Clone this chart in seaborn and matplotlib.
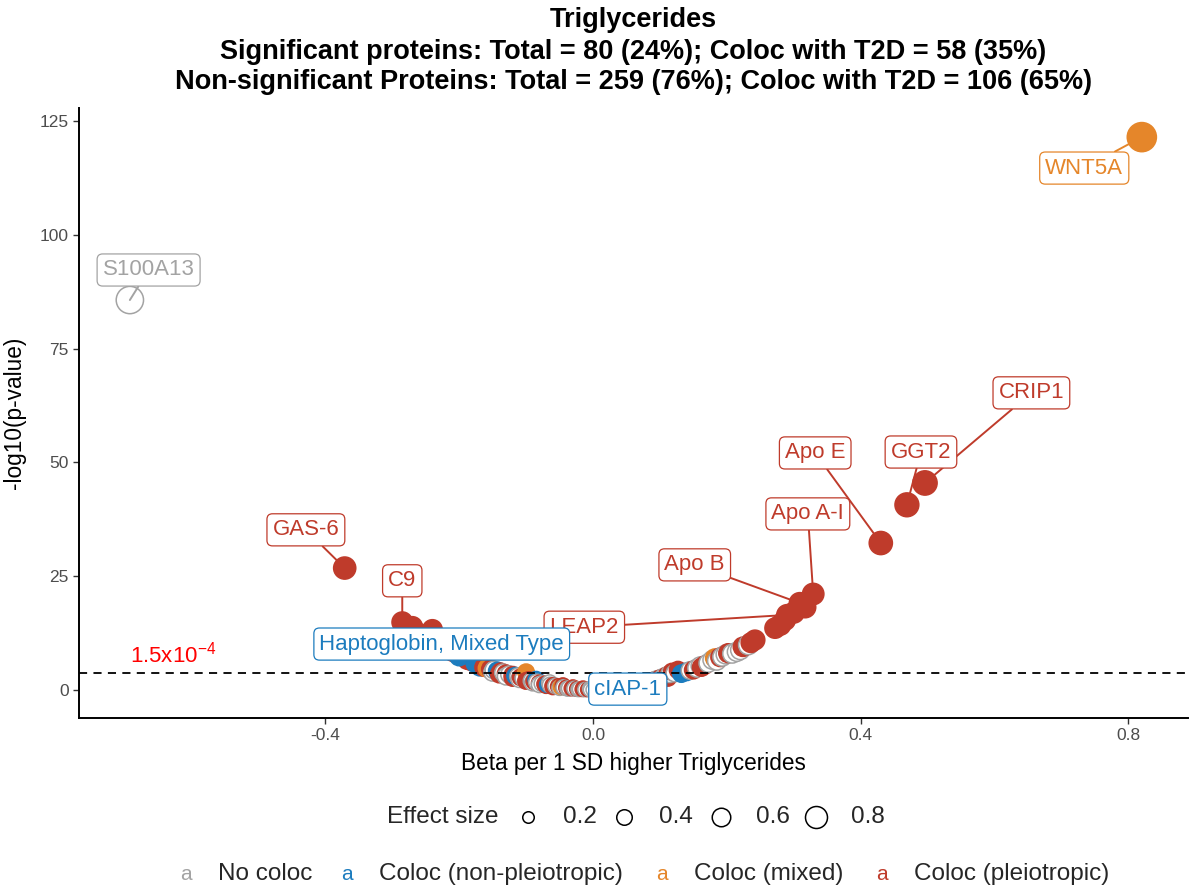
import matplotlib
matplotlib.use("Agg")
import matplotlib.pyplot as plt
import seaborn as sns
import pandas as pd
import numpy as np
from matplotlib.lines import Line2D

# ---------------- data ----------------
# codes: N = No coloc, B = Coloc (non-pleiotropic), M = Coloc (mixed), P = Coloc (pleiotropic)
beta_left = [-0.270, -0.262, -0.250, -0.240, -0.230, -0.222, -0.215, -0.208, -0.200, -0.195,
             -0.188, -0.182, -0.176, -0.169, -0.163, -0.158, -0.153, -0.148, -0.143, -0.138,
             -0.134, -0.130, -0.125, -0.120, -0.116, -0.112, -0.108, -0.104, -0.100, -0.096,
             -0.092, -0.088, -0.084, -0.080, -0.076, -0.072, -0.068, -0.064, -0.060, -0.056,
             -0.052, -0.048, -0.044, -0.040, -0.036, -0.032, -0.028, -0.024, -0.020, -0.016,
             -0.012, -0.008, -0.004]
logp_left = [13.9, 12.5, 11.5, 13.3, 10.2, 9.6, 8.8, 8.3, 7.9, 7.4,
             6.6, 6.3, 5.9, 5.1, 5.0, 4.8, 4.6, 4.4, 4.2, 4.0,
             3.8, 3.6, 3.4, 3.3, 3.1, 3.0, 2.8, 2.6, 3.9, 2.2,
             2.0, 1.9, 1.7, 1.5, 1.4, 1.3, 1.2, 1.1, 1.0, 0.9,
             0.8, 0.7, 0.6, 0.5, 0.4, 0.35, 0.3, 0.25, 0.2, 0.15,
             0.1, 0.1, 0.05]
coloc_left = "PPPPPPPPPN" "PPBBPMPNBP" "NPNPBNPNMP" "NPNPNPBNPN" "PMNPNPNPNP" "NPN"

beta_right = [0.000, 0.005, 0.010, 0.015, 0.020, 0.025, 0.030, 0.035, 0.040, 0.045,
              0.055, 0.060, 0.065, 0.070, 0.075, 0.080, 0.085, 0.090, 0.095, 0.100,
              0.105, 0.110, 0.114, 0.118, 0.127, 0.140, 0.145, 0.155, 0.162, 0.167,
              0.172, 0.178, 0.182, 0.190, 0.193, 0.202, 0.208, 0.215, 0.224, 0.232,
              0.242, 0.272, 0.280, 0.287, 0.300, 0.317]
logp_right = [0.05, 0.08, 0.1, 0.15, 0.2, 0.25, 0.3, 0.4, 0.5, 0.6,
              0.8, 1.0, 1.1, 1.3, 1.5, 1.7, 1.9, 2.1, 2.4, 2.6,
              2.9, 3.2, 3.5, 4.0, 4.4, 4.0, 4.3, 4.8, 5.0, 5.5,
              5.9, 6.6, 7.0, 7.2, 7.3, 8.1, 8.0, 8.4, 9.5, 9.9,
              11.0, 13.6, 14.3, 15.4, 17.0, 18.2]
coloc_right = "NPNPNPNPNP" "NPNPNBNPNP" "NPNPPBNNPP" "NNMPNPNNPN" "PPPPPP"

beta_band = [-0.150, -0.140, -0.130, -0.120, -0.110, -0.100, -0.090, -0.085, -0.080, -0.070,
             -0.065, -0.060, -0.050, -0.045, -0.038, -0.030, -0.022, -0.015, -0.005,
             0.005, 0.012, 0.022, 0.032, 0.042, 0.050, 0.062, 0.072, 0.082, 0.092,
             0.102, 0.112, 0.122, 0.132, 0.150, 0.160, 0.185, 0.198, 0.220, 0.236]
logp_band = [3.9, 3.5, 3.0, 2.7, 2.4, 2.0, 1.6, 2.3, 1.2, 1.0,
             1.6, 0.7, 0.5, 1.0, 0.3, 0.6, 0.15, 0.4, 0.3,
             0.3, 0.45, 0.5, 0.7, 0.9, 0.4, 1.4, 1.0, 2.0, 1.7,
             2.2, 2.7, 3.7, 3.6, 4.4, 5.3, 6.4, 7.8, 8.8, 10.4]
coloc_band = "NPNPNPNBNP" "NPNPNPNPN" "NPNPNPNPNP" "NPNBPNNNNP"

label_protein = ["WNT5A", "S100A13", "CRIP1", "GGT2", "Apo E", "Apo A-I", "Apo B",
                 "LEAP2", "GAS-6", "C9", "Haptoglobin, Mixed Type", "cIAP-1"]
label_beta = [0.820, -0.692, 0.496, 0.469, 0.430, 0.329, 0.309, 0.290, -0.371, -0.285, -0.200, 0.050]
label_logp = [121.5, 85.7, 45.5, 40.7, 32.3, 21.1, 19.1, 16.5, 26.8, 14.9, 7.4, 0.9]
label_coloc = "MNPPPPPPPPBB"

coloc_names = {"N": "No coloc", "B": "Coloc (non-pleiotropic)",
               "M": "Coloc (mixed)", "P": "Coloc (pleiotropic)"}
coloc_order = ["No coloc", "Coloc (non-pleiotropic)", "Coloc (mixed)", "Coloc (pleiotropic)"]
palette = {"No coloc": "#A3A3A3", "Coloc (non-pleiotropic)": "#1C7CBE",
           "Coloc (mixed)": "#E5862A", "Coloc (pleiotropic)": "#BF3B2B"}

threshold_p = 1.5e-4
title_lines = ["Triglycerides",
               "Significant proteins: Total = 80 (24%); Coloc with T2D = 58 (35%)",
               "Non-significant Proteins: Total = 259 (76%); Coloc with T2D = 106 (65%)"]
size_breaks = [0.2, 0.4, 0.6, 0.8]

# label box centres (layout, data coords)
label_pos = {"WNT5A": (0.734, 114.7), "S100A13": (-0.664, 92.3), "CRIP1": (0.655, 65.3),
             "GGT2": (0.490, 52.3), "Apo E": (0.332, 52.1), "Apo A-I": (0.321, 38.7),
             "Apo B": (0.152, 27.5), "LEAP2": (-0.013, 13.8), "GAS-6": (-0.429, 35.2),
             "C9": (-0.285, 24.0), "Haptoglobin, Mixed Type": (-0.226, 10.1),
             "cIAP-1": (0.052, 0.2)}

# ---------------- frame ----------------
pts = pd.DataFrame({
    "beta": beta_left + beta_right + beta_band,
    "neglogp": logp_left + logp_right + logp_band,
    "coloc": [coloc_names[c] for c in coloc_left + coloc_right + coloc_band],
    "protein": "",
}).sort_values("beta", kind="stable")
labs = pd.DataFrame({
    "beta": label_beta, "neglogp": label_logp,
    "coloc": [coloc_names[c] for c in label_coloc], "protein": label_protein,
})
df = pd.concat([pts, labs], ignore_index=True)
df["effect"] = df["beta"].abs()

sns.set_theme(style="ticks")
plt.rcParams["font.family"] = ["Liberation Sans", "DejaVu Sans"]
plt.rcParams["mathtext.fontset"] = "custom"
plt.rcParams["mathtext.rm"] = "Liberation Sans"
plt.rcParams["mathtext.it"] = "Liberation Sans:italic"
plt.rcParams["mathtext.bf"] = "Liberation Sans:bold"

W, H = 1190, 888
fig = plt.figure(figsize=(W / 100, H / 100), dpi=100)
L, R, T, B = 79, 1188, 108, 718
ax = fig.add_axes([L / W, 1 - B / H, (R - L) / W, (B - T) / H])

sns.scatterplot(data=df, x="beta", y="neglogp", hue="coloc", hue_order=coloc_order,
                palette=palette, size="effect", sizes=(100, 440), size_norm=(0, 0.82),
                legend=False, ax=ax, linewidth=1.1, zorder=3)
pc = ax.collections[0]
pc.set_facecolors(["white" if c == "No coloc" else palette[c] for c in df["coloc"]])
pc.set_edgecolors([palette[c] for c in df["coloc"]])

thr = -np.log10(threshold_p)
ax.axhline(thr, color="black", lw=1.3, ls=(0, (4.5, 3.5)), zorder=4)
ax.text(-0.692, thr + 1.2, r"1.5x10$^{\mathregular{-4}}$", color="#FF0000", fontsize=16,
        ha="left", va="bottom", zorder=4)

for _, row in df[df["protein"] != ""].iterrows():
    col = palette[row["coloc"]]
    ax.annotate(row["protein"], xy=(row["beta"], row["neglogp"]),
                xytext=label_pos[row["protein"]], textcoords="data",
                ha="center", va="center", fontsize=16, color=col, zorder=6,
                bbox=dict(boxstyle="round,pad=0.25,rounding_size=0.25", fc="white",
                          ec=col, lw=0.9),
                arrowprops=dict(arrowstyle="-", color=col, lw=1.4,
                                shrinkA=0, shrinkB=0))

ax.set_xlim(-0.768, 0.889)
ax.set_ylim(-6.15, 127.9)
ax.set_xticks([-0.4, 0.0, 0.4, 0.8])
ax.set_xticklabels(["-0.4", "0.0", "0.4", "0.8"])
ax.set_yticks([0, 25, 50, 75, 100, 125])
ax.tick_params(axis="both", labelsize=12.5, labelcolor="#4D4D4D", color="#333333",
               length=4, width=1.0)
for s in ["top", "right"]:
    ax.spines[s].set_visible(False)
for s in ["left", "bottom"]:
    ax.spines[s].set_color("black")
    ax.spines[s].set_linewidth(1.4)
ax.set_xlabel("Beta per 1 SD higher Triglycerides", fontsize=16.3, color="black", labelpad=6)
ax.set_ylabel("-log10(p-value)", fontsize=16.3, color="black", labelpad=10)

# title
for line, yy in zip(title_lines, [20, 52, 82]):
    fig.text((L + R) / 2 / W, 1 - yy / H, line, ha="center", va="center",
             fontsize=19.5, fontweight="bold", color="black")

# size legend
ly1 = 1 - 817 / H
fig.text(387 / W, ly1, "Effect size", fontsize=17.5, ha="left", va="center")
circ_x = [528, 624, 721, 816]
circ_d = [11.5, 15.5, 18.5, 22.0]
for b, cx, d in zip(size_breaks, circ_x, circ_d):
    fig.add_artist(Line2D([cx / W], [ly1], transform=fig.transFigure, marker="o",
                          markersize=d * 0.72, mfc="white", mec="black", mew=1.1, ls=""))
    fig.text((cx + 35) / W, ly1, f"{b:.1f}", fontsize=17.5, ha="left", va="center")

# colour legend
ly2 = 1 - 874 / H
key_x = [186, 347, 662, 882]
for name, kx in zip(coloc_order, key_x):
    fig.text(kx / W, ly2, "a", color=palette[name], fontsize=15, ha="center", va="center")
    fig.text((kx + 32) / W, ly2, name, fontsize=17.5, ha="left", va="center")

fig.savefig("out.png", dpi=100)
